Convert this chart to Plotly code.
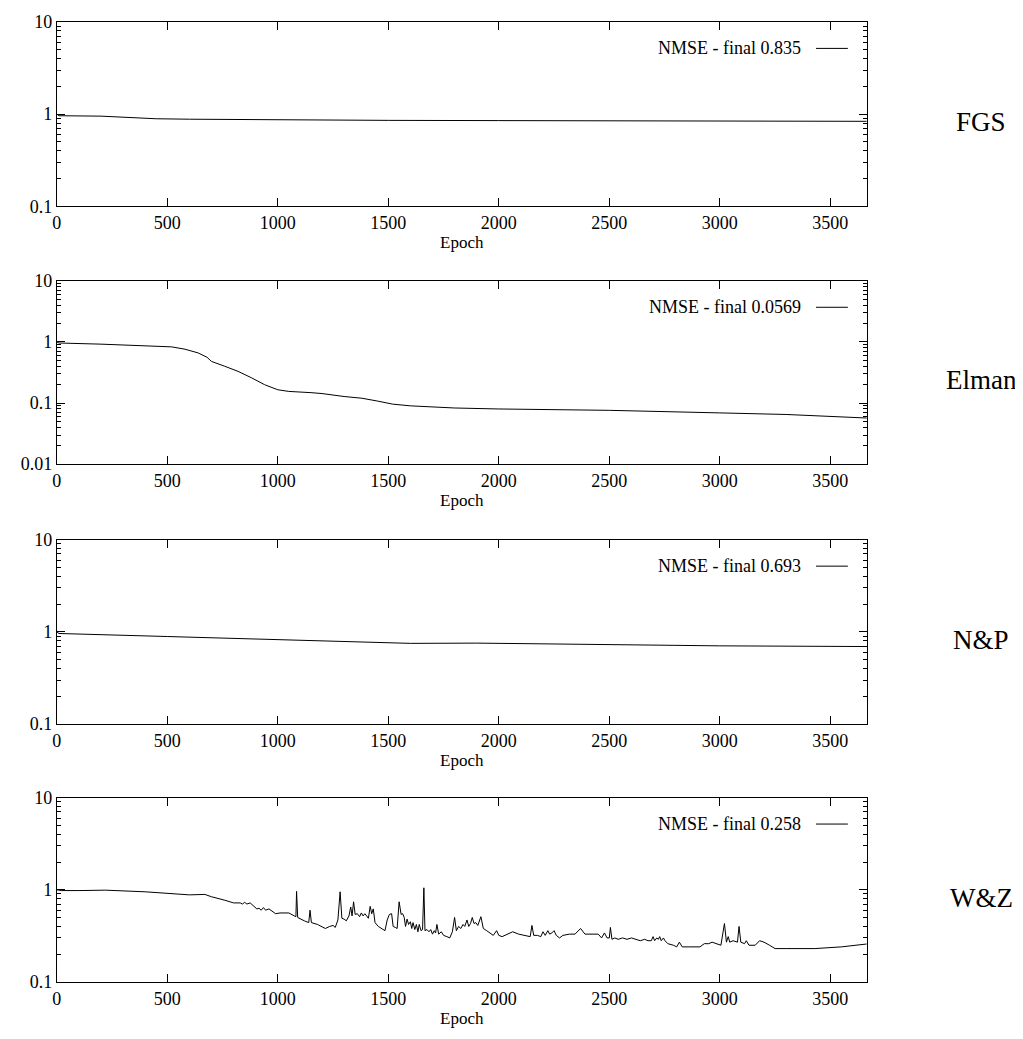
import plotly.graph_objects as go

# ---------------- data ----------------
fgs_epoch = [0, 10, 200, 300, 450, 600, 1000, 1500, 2000, 2500, 3000, 3665]
fgs_nmse = [1.0, 0.96, 0.95, 0.93, 0.89, 0.88, 0.865, 0.855, 0.85, 0.845, 0.84, 0.835]

elman_epoch = [0, 10, 200, 400, 520, 580, 640, 680, 700, 760, 820, 880, 940, 1000, 1050,
               1150, 1200, 1300, 1380, 1450, 1520, 1600, 1700, 1800, 2000, 2500, 3000, 3300, 3665]
elman_nmse = [1.0, 0.96, 0.92, 0.87, 0.83, 0.76, 0.66, 0.56, 0.48, 0.40, 0.33, 0.26, 0.20, 0.165, 0.155,
              0.148, 0.143, 0.128, 0.120, 0.108, 0.096, 0.090, 0.086, 0.083, 0.080, 0.076, 0.069, 0.065, 0.0569]

np_epoch = [0, 10, 500, 1000, 1400, 1600, 1900, 2000, 2300, 2500, 3000, 3665]
np_nmse = [1.0, 0.96, 0.89, 0.82, 0.77, 0.75, 0.755, 0.75, 0.73, 0.72, 0.705, 0.693]

wz_epoch = [0, 20, 100, 220, 400, 550, 600, 670, 700, 760, 800, 830, 840, 850, 860, 875, 890, 905, 915,
            925, 935, 945, 960, 975, 990, 1010, 1050, 1075, 1082, 1085, 1090, 1120, 1140, 1146, 1152,
            1180, 1215, 1235, 1250, 1260, 1272, 1282, 1290, 1300, 1310, 1322, 1330, 1336, 1343, 1350,
            1360, 1370, 1378, 1386, 1394, 1402, 1410, 1418, 1425, 1432, 1440, 1455, 1470, 1485, 1495,
            1505, 1515, 1522, 1532, 1540, 1549, 1558, 1565, 1572, 1578, 1585, 1592, 1600, 1606, 1612,
            1620, 1627, 1634, 1640, 1648, 1655, 1661, 1666, 1675, 1684, 1692, 1700, 1708, 1714, 1720,
            1728, 1740, 1750, 1765, 1778, 1790, 1800, 1808, 1818, 1828, 1838, 1846, 1856, 1864, 1872,
            1880, 1888, 1896, 1905, 1919, 1930, 1945, 1960, 1975, 1990, 2000, 2015, 2040, 2063, 2090,
            2120, 2142, 2150, 2158, 2175, 2190, 2200, 2210, 2222, 2230, 2240, 2250, 2260, 2275, 2290,
            2320, 2345, 2370, 2390, 2420, 2450, 2465, 2478, 2490, 2500, 2505, 2512, 2525, 2540, 2560,
            2580, 2600, 2620, 2640, 2660, 2675, 2690, 2698, 2705, 2715, 2722, 2728, 2735, 2745, 2752,
            2765, 2790, 2805, 2817, 2830, 2860, 2910, 2930, 2950, 2965, 2990, 3005, 3021, 3030, 3038,
            3045, 3060, 3080, 3087, 3095, 3112, 3120, 3132, 3160, 3180, 3200, 3225, 3250, 3300, 3430,
            3550, 3665]
wz_nmse = [1.00, 0.98, 0.98, 0.99, 0.95, 0.89, 0.88, 0.89, 0.84, 0.77, 0.72, 0.72, 0.70, 0.73, 0.70, 0.72,
           0.66, 0.62, 0.63, 0.60, 0.64, 0.60, 0.62, 0.58, 0.55, 0.56, 0.56, 0.52, 0.51, 0.96, 0.50, 0.46,
           0.44, 0.60, 0.44, 0.42, 0.38, 0.40, 0.41, 0.39, 0.47, 0.95, 0.49, 0.48, 0.46, 0.52, 0.65, 0.52,
           0.74, 0.54, 0.55, 0.51, 0.56, 0.52, 0.55, 0.52, 0.49, 0.66, 0.55, 0.62, 0.44, 0.40, 0.38, 0.36,
           0.47, 0.54, 0.55, 0.40, 0.39, 0.38, 0.74, 0.54, 0.55, 0.50, 0.40, 0.48, 0.42, 0.45, 0.38, 0.44,
           0.37, 0.42, 0.35, 0.42, 0.36, 0.37, 1.05, 0.36, 0.37, 0.35, 0.37, 0.33, 0.36, 0.34, 0.42, 0.33,
           0.35, 0.32, 0.31, 0.30, 0.35, 0.50, 0.36, 0.40, 0.38, 0.42, 0.40, 0.47, 0.40, 0.43, 0.50, 0.43,
           0.44, 0.41, 0.51, 0.38, 0.36, 0.34, 0.32, 0.36, 0.32, 0.31, 0.33, 0.35, 0.33, 0.32, 0.31, 0.41,
           0.32, 0.32, 0.31, 0.35, 0.32, 0.36, 0.33, 0.34, 0.36, 0.32, 0.30, 0.32, 0.33, 0.33, 0.38, 0.33,
           0.33, 0.33, 0.30, 0.34, 0.30, 0.30, 0.39, 0.29, 0.30, 0.29, 0.30, 0.29, 0.30, 0.29, 0.28, 0.29,
           0.28, 0.28, 0.31, 0.28, 0.30, 0.29, 0.31, 0.28, 0.30, 0.28, 0.26, 0.25, 0.24, 0.27, 0.24, 0.24,
           0.24, 0.26, 0.26, 0.27, 0.26, 0.25, 0.43, 0.27, 0.31, 0.27, 0.28, 0.27, 0.40, 0.27, 0.26, 0.28,
           0.25, 0.25, 0.28, 0.27, 0.25, 0.23, 0.23, 0.23, 0.24, 0.258]

panel_names = ["FGS", "Elman", "N&P", "W&Z"]
legend_texts = ["NMSE - final 0.835", "NMSE - final 0.0569", "NMSE - final 0.693", "NMSE - final 0.258"]
y_ranges = [(-1, 1), (-2, 1), (-1, 1), (-1, 1)]
x_ticks = [0, 500, 1000, 1500, 2000, 2500, 3000, 3500]
y_tick_vals = [0.01, 0.1, 1, 10]
y_tick_text = ["0.01", "0.1", "1", "10"]

series = [(fgs_epoch, fgs_nmse), (elman_epoch, elman_nmse), (np_epoch, np_nmse), (wz_epoch, wz_nmse)]

# ---------------- layout ----------------
# page body has an 8px default margin, so the figure is drawn 8px smaller and positions shifted
OFF = 8
W, H = 1023 - OFF, 1039 - OFF
left, right = 52 - OFF, 866 - OFF
tops = [v - OFF for v in [12, 276, 540, 803]]
bottoms = [v - OFF for v in [200, 463, 728, 991]]
leg_text_right = 802 - OFF
leg_line = (815 - OFF, 847 - OFF)
name_x = 981 - OFF
FONT = "Liberation Serif, Times New Roman, serif"

fig = go.Figure()
layout = dict(width=W, height=H, margin=dict(l=0, r=0, t=0, b=0),
              paper_bgcolor="white", plot_bgcolor="white", showlegend=False,
              font=dict(family=FONT, size=18, color="black"))
annotations = []
shapes = []

for i in range(4):
    xa = "xaxis" if i == 0 else f"xaxis{i+1}"
    ya = "yaxis" if i == 0 else f"yaxis{i+1}"
    xr = "x" if i == 0 else f"x{i+1}"
    yr = "y" if i == 0 else f"y{i+1}"
    ex, ey = series[i]
    fig.add_trace(go.Scatter(x=ex, y=ey, mode="lines", xaxis=xr, yaxis=yr,
                             line=dict(color="black", width=1)))
    dom_y = [1 - bottoms[i] / H, 1 - tops[i] / H]
    lo, hi = y_ranges[i]
    layout[xa] = dict(domain=[left / W, right / W], anchor=yr, range=[0, 3665],
                      tickvals=x_ticks, ticks="inside", ticklen=8, tickcolor="black",
                      showline=True, linecolor="black", linewidth=1, mirror="allticks",
                      showgrid=False, zeroline=False,
                      tickfont=dict(family=FONT, size=18, color="black"),
                      title=dict(text="Epoch", font=dict(family=FONT, size=17, color="black"),
                                 standoff=0))
    layout[ya] = dict(domain=dom_y, anchor=xr, type="log", range=[lo, hi],
                      tickvals=[v for v in y_tick_vals if 10**lo <= v <= 10**hi],
                      ticktext=[t for v, t in zip(y_tick_vals, y_tick_text) if 10**lo <= v <= 10**hi],
                      ticks="inside", ticklen=8, tickcolor="black",
                      showline=True, linecolor="black", linewidth=1, mirror="allticks",
                      showgrid=False, zeroline=False,
                      minor=dict(ticks="inside", ticklen=4, tickcolor="black", dtick="D1", showgrid=False),
                      tickfont=dict(family=FONT, size=18, color="black"))
    # legend entry: text followed by line sample
    ly = 1 - 27 / (bottoms[i] - tops[i])
    annotations.append(dict(xref=f"{xr} domain", yref=f"{yr} domain",
                            x=(leg_text_right - left) / (right - left), y=ly,
                            xanchor="right", yanchor="middle", showarrow=False, text=legend_texts[i],
                            font=dict(family=FONT, size=18, color="black")))
    shapes.append(dict(type="line", xref=f"{xr} domain", yref=f"{yr} domain",
                       x0=(leg_line[0] - left) / (right - left), x1=(leg_line[1] - left) / (right - left),
                       y0=ly, y1=ly, line=dict(color="black", width=1)))
    # panel name on right
    annotations.append(dict(xref="paper", yref="paper", x=name_x / W,
                            y=1 - ((tops[i] + bottoms[i]) / 2 + 8) / H,
                            xanchor="center", yanchor="middle", showarrow=False, text=panel_names[i],
                            font=dict(family=FONT, size=27, color="black")))

layout["annotations"] = annotations
layout["shapes"] = shapes
fig.update_layout(**layout)
fig.write_html("out.html")
